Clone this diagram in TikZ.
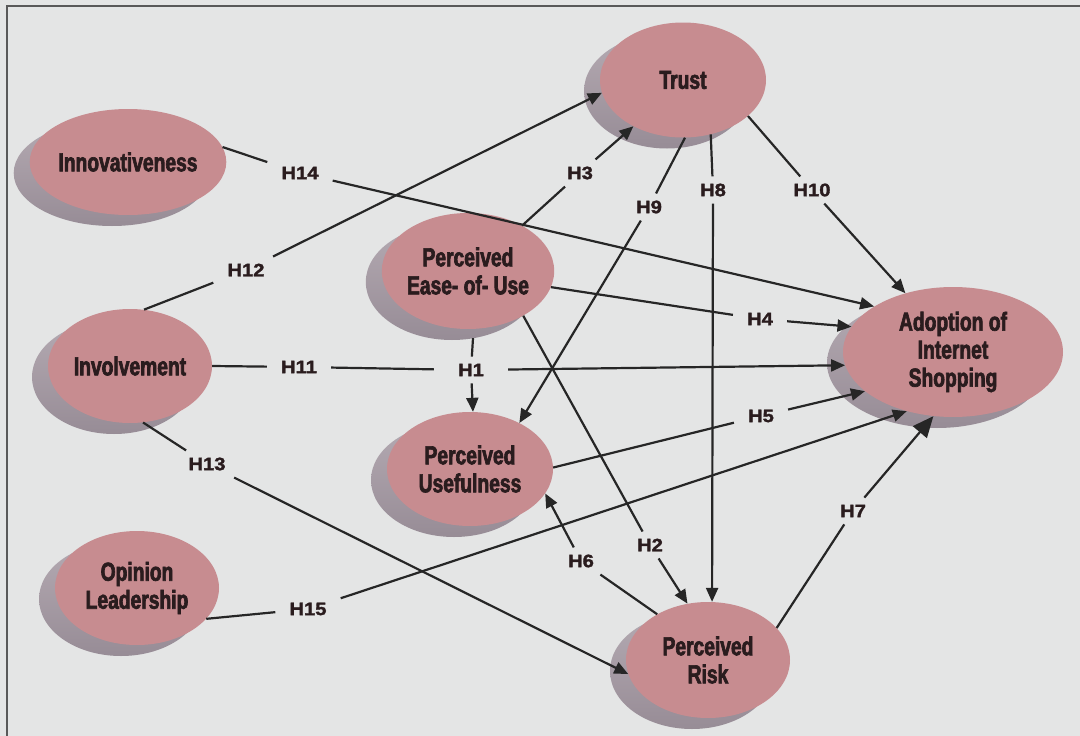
\documentclass[tikz,border=0pt]{standalone}
\usepackage{fontspec}
\usetikzlibrary{shapes.geometric,arrows.meta,shadows}
\newfontfamily\factorfont{Liberation Sans}[FakeStretch=0.74,FakeBold=2.5]
\newfontfamily\hypfont{Liberation Sans}[FakeStretch=1.12,FakeBold=1.8]
\definecolor{paper}{HTML}{E4E5E5}
\definecolor{rose}{HTML}{C78C90}
\definecolor{shadetop}{HTML}{B4AAB2}
\definecolor{shadebot}{HTML}{978C96}
\definecolor{ink}{HTML}{2A1C1E}
\definecolor{linec}{HTML}{262626}
\begin{document}
\begin{tikzpicture}[x=1pt,y=-1pt,
  factor/.style={ellipse, fill=rose, inner sep=0pt, text=ink, align=center,
    font=\factorfont\bfseries\fontsize{26}{28}\selectfont,
    general shadow={shadow xshift=-16pt, shadow yshift=-11pt,
      top color=shadetop, bottom color=shadebot}},
  hyp/.style={font=\hypfont\bfseries\fontsize{18}{20}\selectfont, text=ink,
    inner xsep=14pt, inner ysep=7pt},
  link/.style={line width=2.2pt, draw=linec},
  arr/.style={link, -{Triangle[length=14pt,width=12pt]}},
  bigarr/.style={link, -{Triangle[length=21pt,width=18pt]}},
]
\useasboundingbox (0,0) rectangle (1080,736);
\fill[paper] (0,0) rectangle (1080,736);
\draw[line width=1.8pt, draw=black!65] (7,736) -- (7,6) -- (1080,6);

% constructs
\node[factor, minimum width=186pt, minimum height=106pt] (innov) at (128,162) {Innovativeness};
\node[factor, minimum width=166pt, minimum height=115pt] (trust) at (683,80) {Trust};
\node[factor, minimum width=166pt, minimum height=116pt] (ease) at (468,271) {Perceived\\Ease- of- Use};
\node[factor, minimum width=164pt, minimum height=114pt] (inv) at (130,366) {Involvement};
\node[factor, minimum width=166pt, minimum height=114pt] (useful) at (470,469) {Perceived\\Usefulness};
\node[factor, minimum width=164pt, minimum height=114pt] (opinion) at (137,588) {Opinion\\Leadership};
\node[factor, minimum width=164pt, minimum height=116pt] (risk) at (708,660) {Perceived\\Risk};
\node[factor, minimum width=220pt, minimum height=130pt] (adopt) at (953,352) {Adoption of\\Internet\\Shopping};

% hypothesis labels
\node[hyp] (h14) at (300,173) {H14};
\node[hyp] (h3) at (580,173) {H3};
\node[hyp] (h9) at (649,207) {H9};
\node[hyp] (h8) at (713,190) {H8};
\node[hyp] (h10) at (812,190) {H10};
\node[hyp] (h12) at (246,270) {H12};
\node[hyp] (h4) at (760,319) {H4};
\node[hyp] (h11) at (299,367) {H11};
\node[hyp, inner xsep=24pt] (h1) at (471,370) {H1};
\node[hyp] (h5) at (761,416) {H5};
\node[hyp] (h13) at (207,464) {H13};
\node[hyp] (h6) at (581,561) {H6};
\node[hyp] (h2) at (650,545) {H2};
\node[hyp] (h7) at (853,511) {H7};
\node[hyp] (h15) at (308,609) {H15};

% paths
\draw[link] (innov.9) -- (h14);   \draw[arr] (h14) -- (adopt.150);
\draw[link] (inv.76) -- (h12);    \draw[arr] (h12) -- (trust.189);
\draw[link] (ease.40) -- (h3);    \draw[arr] (h3) -- (trust.223);
\draw[link] (trust.272) -- (h9);  \draw[arr] (h9) -- (useful.43);
\draw[link] (trust.297) -- (h8);  \draw[arr] (h8) -- (risk.86);
\draw[link] (trust.331) -- (h10); \draw[arr] (h10) -- (adopt.129);
\draw[link] (ease.349) -- (h4);   \draw[arr] (h4) -- (adopt.166);
\draw[link] (inv.0) -- (h11);     \draw[link] (h11) -- (h1);
\draw[arr] (h1) -- (adopt.187);
\draw[link] ([xshift=5pt,yshift=-9pt]ease.south) -- (h1);
\draw[arr] (h1) -- (useful.87);
\draw[link] (useful.1) -- (h5);   \draw[arr] (h5) -- (adopt.204);
\draw[link] (ease.321) -- (h2);   \draw[arr] (h2) -- (risk.110);
\draw[link] (risk.138) -- (h6);   \draw[arr] (h6) -- (useful.342);
\draw[link] (risk.25) -- (h7);    \draw[bigarr] (h7) -- (adopt.253);
\draw[link] (inv.283) -- (h13);   \draw[arr] (h13) -- (risk.190);
\draw[link] (opinion.336) -- (h15); \draw[arr] (h15) -- (adopt.232);
\end{tikzpicture}
\end{document}
